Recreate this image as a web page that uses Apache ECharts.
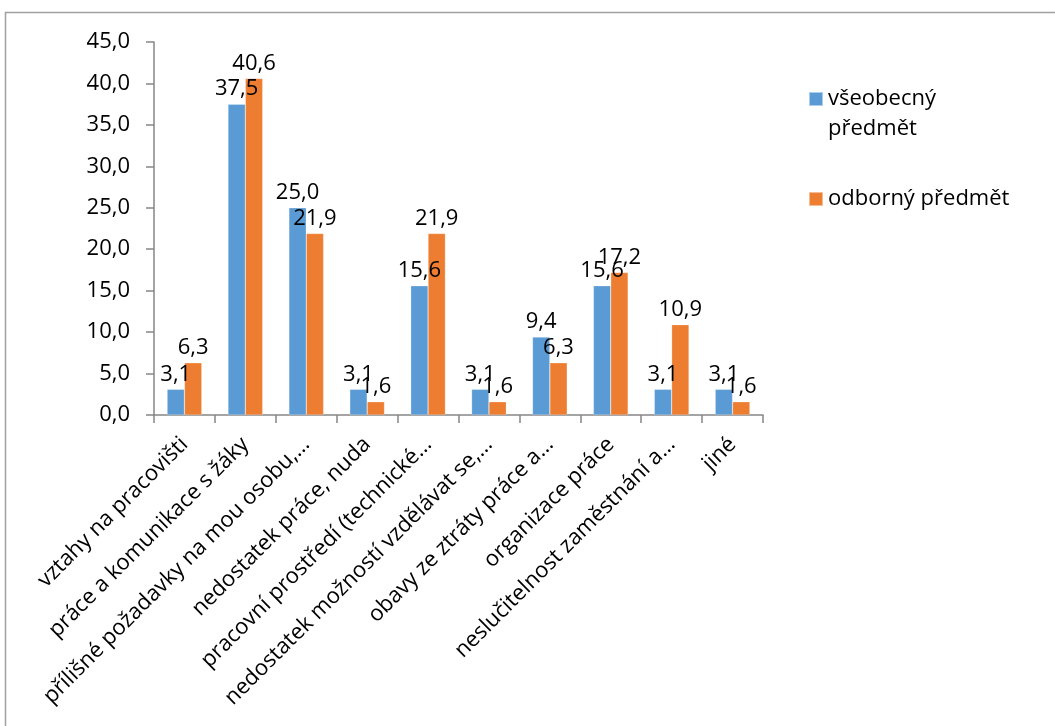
<!DOCTYPE html>
<html lang="cs">
<head>
<meta charset="utf-8">
<title>Příčiny stresu učitelů</title>
<script src="https://cdn.jsdelivr.net/npm/echarts@6/dist/echarts.min.js"></script>
<style>
  html, body { margin: 0; padding: 0; background: #fff; }
  #chart { width: 1055px; height: 726px; }
</style>
</head>
<body>
<div id="chart"></div>
<script>
// Kategorie (osa X) a hodnoty v procentech pro obě skupiny učitelů
const categories = [
  'vztahy na pracovišti',
  'práce a komunikace s žáky',
  'přílišné požadavky na mou osobu,…',
  'nedostatek práce, nuda',
  'pracovní prostředí (technické…',
  'nedostatek možností vzdělávat se,…',
  'obavy ze ztráty práce a…',
  'organizace práce',
  'neslučitelnost zaměstnání a…',
  'jiné'
];
const seriesNames = ['všeobecný předmět', 'odborný předmět'];
const vseobecny = [3.1, 37.5, 25.0, 3.1, 15.6, 3.1, 9.4, 15.6, 3.1, 3.1];
const odborny = [6.3, 40.6, 21.9, 1.6, 21.9, 1.6, 6.3, 17.2, 10.9, 1.6];
const yTicks = { min: 0, max: 45, interval: 5 };

const FONT = '"Open Sans", "Noto Sans", sans-serif';
const FS = 22;
const fmt = v => Number(v).toFixed(1).replace('.', ',');

const chart = echarts.init(document.getElementById('chart'), null, { renderer: 'canvas' });

const barSeries = (name, data, color) => ({
  name,
  type: 'bar',
  data,
  barGap: '0%',
  barCategoryGap: '43%',
  itemStyle: { color, borderColor: 'rgba(255,255,255,0.5)', borderWidth: 0.5 },
  label: {
    show: true,
    position: 'top',
    distance: 4,
    color: '#000',
    fontFamily: FONT,
    fontSize: FS,
    formatter: p => fmt(p.value)
  },
  labelLayout: { moveOverlap: 'shiftY' }
});

// the long legend entry wraps onto a second line; a leading blank line keeps
// the first text line level with the colour swatch
const legendText = name => name === seriesNames[0] ? '\n' + name.replace(' ', '\n') : name;

chart.setOption({
  animation: false,
  textStyle: { fontFamily: FONT },
  graphic: [{
    type: 'rect',
    silent: true,
    shape: { x: 5.5, y: 12.5, width: 1200, height: 900 },
    style: { fill: 'none', stroke: '#a0a0a0', lineWidth: 1.5 }
  }],
  grid: { left: 154, right: 292, top: 42, bottom: 311, containLabel: false },
  legend: {
    orient: 'vertical',
    left: 808,
    top: 54,
    padding: 0,
    itemGap: 40,
    itemWidth: 14,
    itemHeight: 14,
    icon: 'rect',
    data: seriesNames,
    formatter: legendText,
    textStyle: { color: '#000', fontSize: FS, lineHeight: 30, fontFamily: FONT }
  },
  xAxis: {
    type: 'category',
    data: categories,
    boundaryGap: true,
    axisLine: { lineStyle: { color: '#868686', width: 1.5 } },
    axisTick: { show: true, alignWithLabel: false, length: 8, lineStyle: { color: '#868686', width: 1.5 } },
    axisLabel: {
      interval: 0,
      rotate: 45,
      margin: 26,
      color: '#000',
      fontSize: FS,
      fontFamily: FONT
    },
    splitLine: { show: false }
  },
  yAxis: {
    type: 'value',
    min: yTicks.min,
    max: yTicks.max,
    interval: yTicks.interval,
    axisLine: { show: true, lineStyle: { color: '#868686', width: 1.5 } },
    axisTick: { show: true, length: 8, lineStyle: { color: '#868686', width: 1.5 } },
    axisLabel: {
      margin: 24,
      color: '#000',
      fontSize: FS,
      fontFamily: FONT,
      formatter: v => fmt(v)
    },
    splitLine: { show: false }
  },
  series: [
    barSeries(seriesNames[0], vseobecny, '#5B9BD5'),
    barSeries(seriesNames[1], odborny, '#ED7D31')
  ]
});
</script>
</body>
</html>
